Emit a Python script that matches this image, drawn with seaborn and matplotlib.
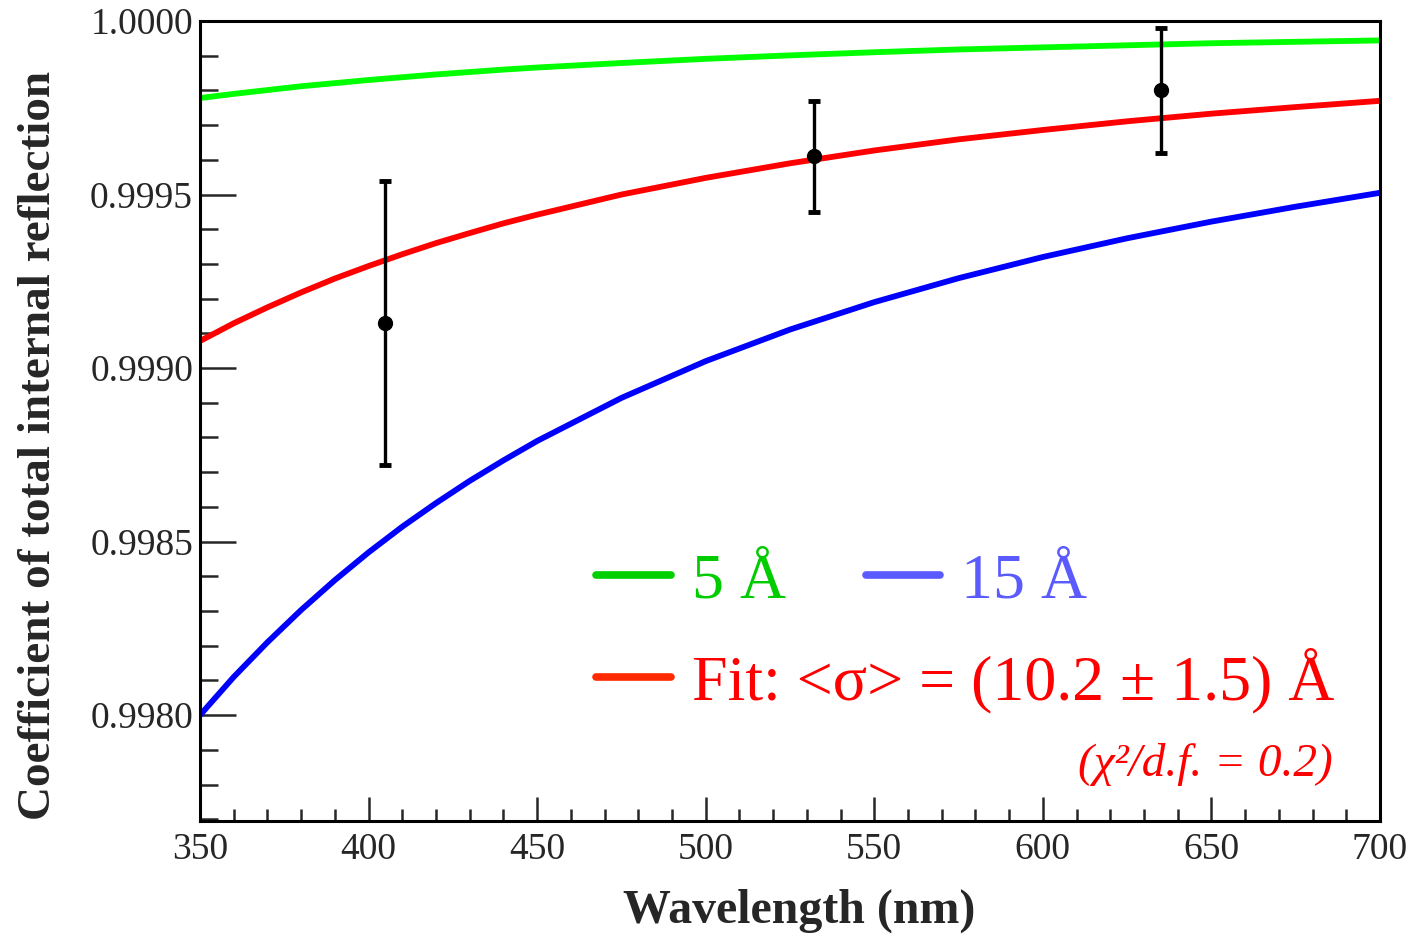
import numpy as np
import pandas as pd
import matplotlib
matplotlib.use("Agg")
import matplotlib.pyplot as plt
from matplotlib.lines import Line2D
from matplotlib.ticker import MultipleLocator, FormatStrFormatter
import seaborn as sns

# ---- data ----
wavelength = [350, 360, 370, 380, 390, 400, 410, 420, 430, 440, 450,
              475, 500, 525, 550, 575, 600, 625, 650, 675, 700]
tir_5A = [0.999778, 0.999790, 0.999801, 0.999812, 0.999821, 0.999830, 0.999838,
          0.999846, 0.999853, 0.999860, 0.999866, 0.999879, 0.999891, 0.999901,
          0.999910, 0.999918, 0.999924, 0.999930, 0.999936, 0.999940, 0.999944]
tir_15A = [0.998000, 0.998110, 0.998210, 0.998303, 0.998389, 0.998469, 0.998543,
           0.998611, 0.998675, 0.998734, 0.998790, 0.998914, 0.999020, 0.999111,
           0.999190, 0.999259, 0.999320, 0.999374, 0.999422, 0.999465, 0.999505]
tir_fit = [0.999078, 0.999129, 0.999175, 0.999218, 0.999258, 0.999294, 0.999328,
           0.999360, 0.999389, 0.999417, 0.999442, 0.999500, 0.999548, 0.999590,
           0.999627, 0.999659, 0.999686, 0.999711, 0.999733, 0.999752, 0.999770]
meas_wl = [405, 532, 635]
meas_val = [0.99913, 0.99961, 0.99980]
meas_err = [0.00041, 0.00016, 0.00018]

sns.set_theme(style="ticks")
plt.rcParams['font.family'] = ['Liberation Serif', 'DejaVu Serif']

fig = plt.figure(figsize=(14.1, 9.36), dpi=100)
ax = fig.add_axes([200/1410, 115/936, 1180/1410, 800/936])

df = pd.DataFrame({"wl": wavelength, "g": tir_5A, "b": tir_15A, "r": tir_fit})
sns.lineplot(data=df, x="wl", y="g", ax=ax, color="#00ff00", lw=4.2)
sns.lineplot(data=df, x="wl", y="r", ax=ax, color="#ff0000", lw=4.2)
sns.lineplot(data=df, x="wl", y="b", ax=ax, color="#0000ff", lw=4.2)

ax.errorbar(meas_wl, meas_val, yerr=meas_err, fmt='o', color='black', ms=10,
            elinewidth=2.4, capsize=4, capthick=3.5, zorder=5)

ax.set_xlim(350, 700)
ax.set_ylim(0.997695, 1.0)
ax.xaxis.set_major_locator(MultipleLocator(50))
ax.xaxis.set_minor_locator(MultipleLocator(10))
ax.yaxis.set_major_locator(MultipleLocator(0.0005))
ax.yaxis.set_minor_locator(MultipleLocator(0.0001))
ax.yaxis.set_major_formatter(FormatStrFormatter('%.4f'))

ax.tick_params(axis='y', which='major', direction='in', length=26, width=1.8,
               labelsize=27, pad=5, right=False)
ax.tick_params(axis='y', which='minor', direction='in', length=13, width=1.8, right=False)
ax.tick_params(axis='x', which='major', direction='in', length=17, width=1.8,
               labelsize=27, pad=8, top=False)
ax.tick_params(axis='x', which='minor', direction='in', length=8.5, width=1.8, top=False)
for s in ax.spines.values():
    s.set_visible(True)
    s.set_linewidth(2.2)
    s.set_color('black')

ax.set_xlabel("Wavelength (nm)", fontsize=34.5, fontweight='bold')
ax.set_ylabel("Coefficient of total internal reflection", fontsize=34,
              fontweight='bold')
ax.xaxis.set_label_coords(0.508, -0.085)
ax.yaxis.set_label_coords(-0.119, 0.469)

# legend
h_g = Line2D([], [], color="#00d000", lw=5.5)
h_b = Line2D([], [], color="#5a5aff", lw=5.5)
h_r = Line2D([], [], color="#ff2a00", lw=5.5)
leg1 = ax.legend([h_g, h_b], ["5 Å", "15 Å"], ncol=2, frameon=False, fontsize=46,
                 loc='center left', bbox_to_anchor=(0.336, 0.299),
                 handlelength=1.17, handletextpad=0.33, columnspacing=1.24,
                 borderaxespad=0, borderpad=0)
for t, c in zip(leg1.get_texts(), ["#00cc00", "#5a5aff"]):
    t.set_color(c)
ax.add_artist(leg1)
leg2 = ax.legend([h_r], ["Fit: <σ> = (10.2 ± 1.5) Å"], frameon=False, fontsize=46,
                 loc='center left', bbox_to_anchor=(0.336, 0.175),
                 handlelength=1.17, handletextpad=0.33, borderaxespad=0, borderpad=0)
leg2.get_texts()[0].set_color("#ff0000")

ax.text(0.960, 0.07, "(χ²/d.f. = 0.2)", transform=ax.transAxes,
        fontsize=34, fontstyle='italic', color="#ff0000", ha='right', va='center')

fig.savefig("out.png", dpi=100)
